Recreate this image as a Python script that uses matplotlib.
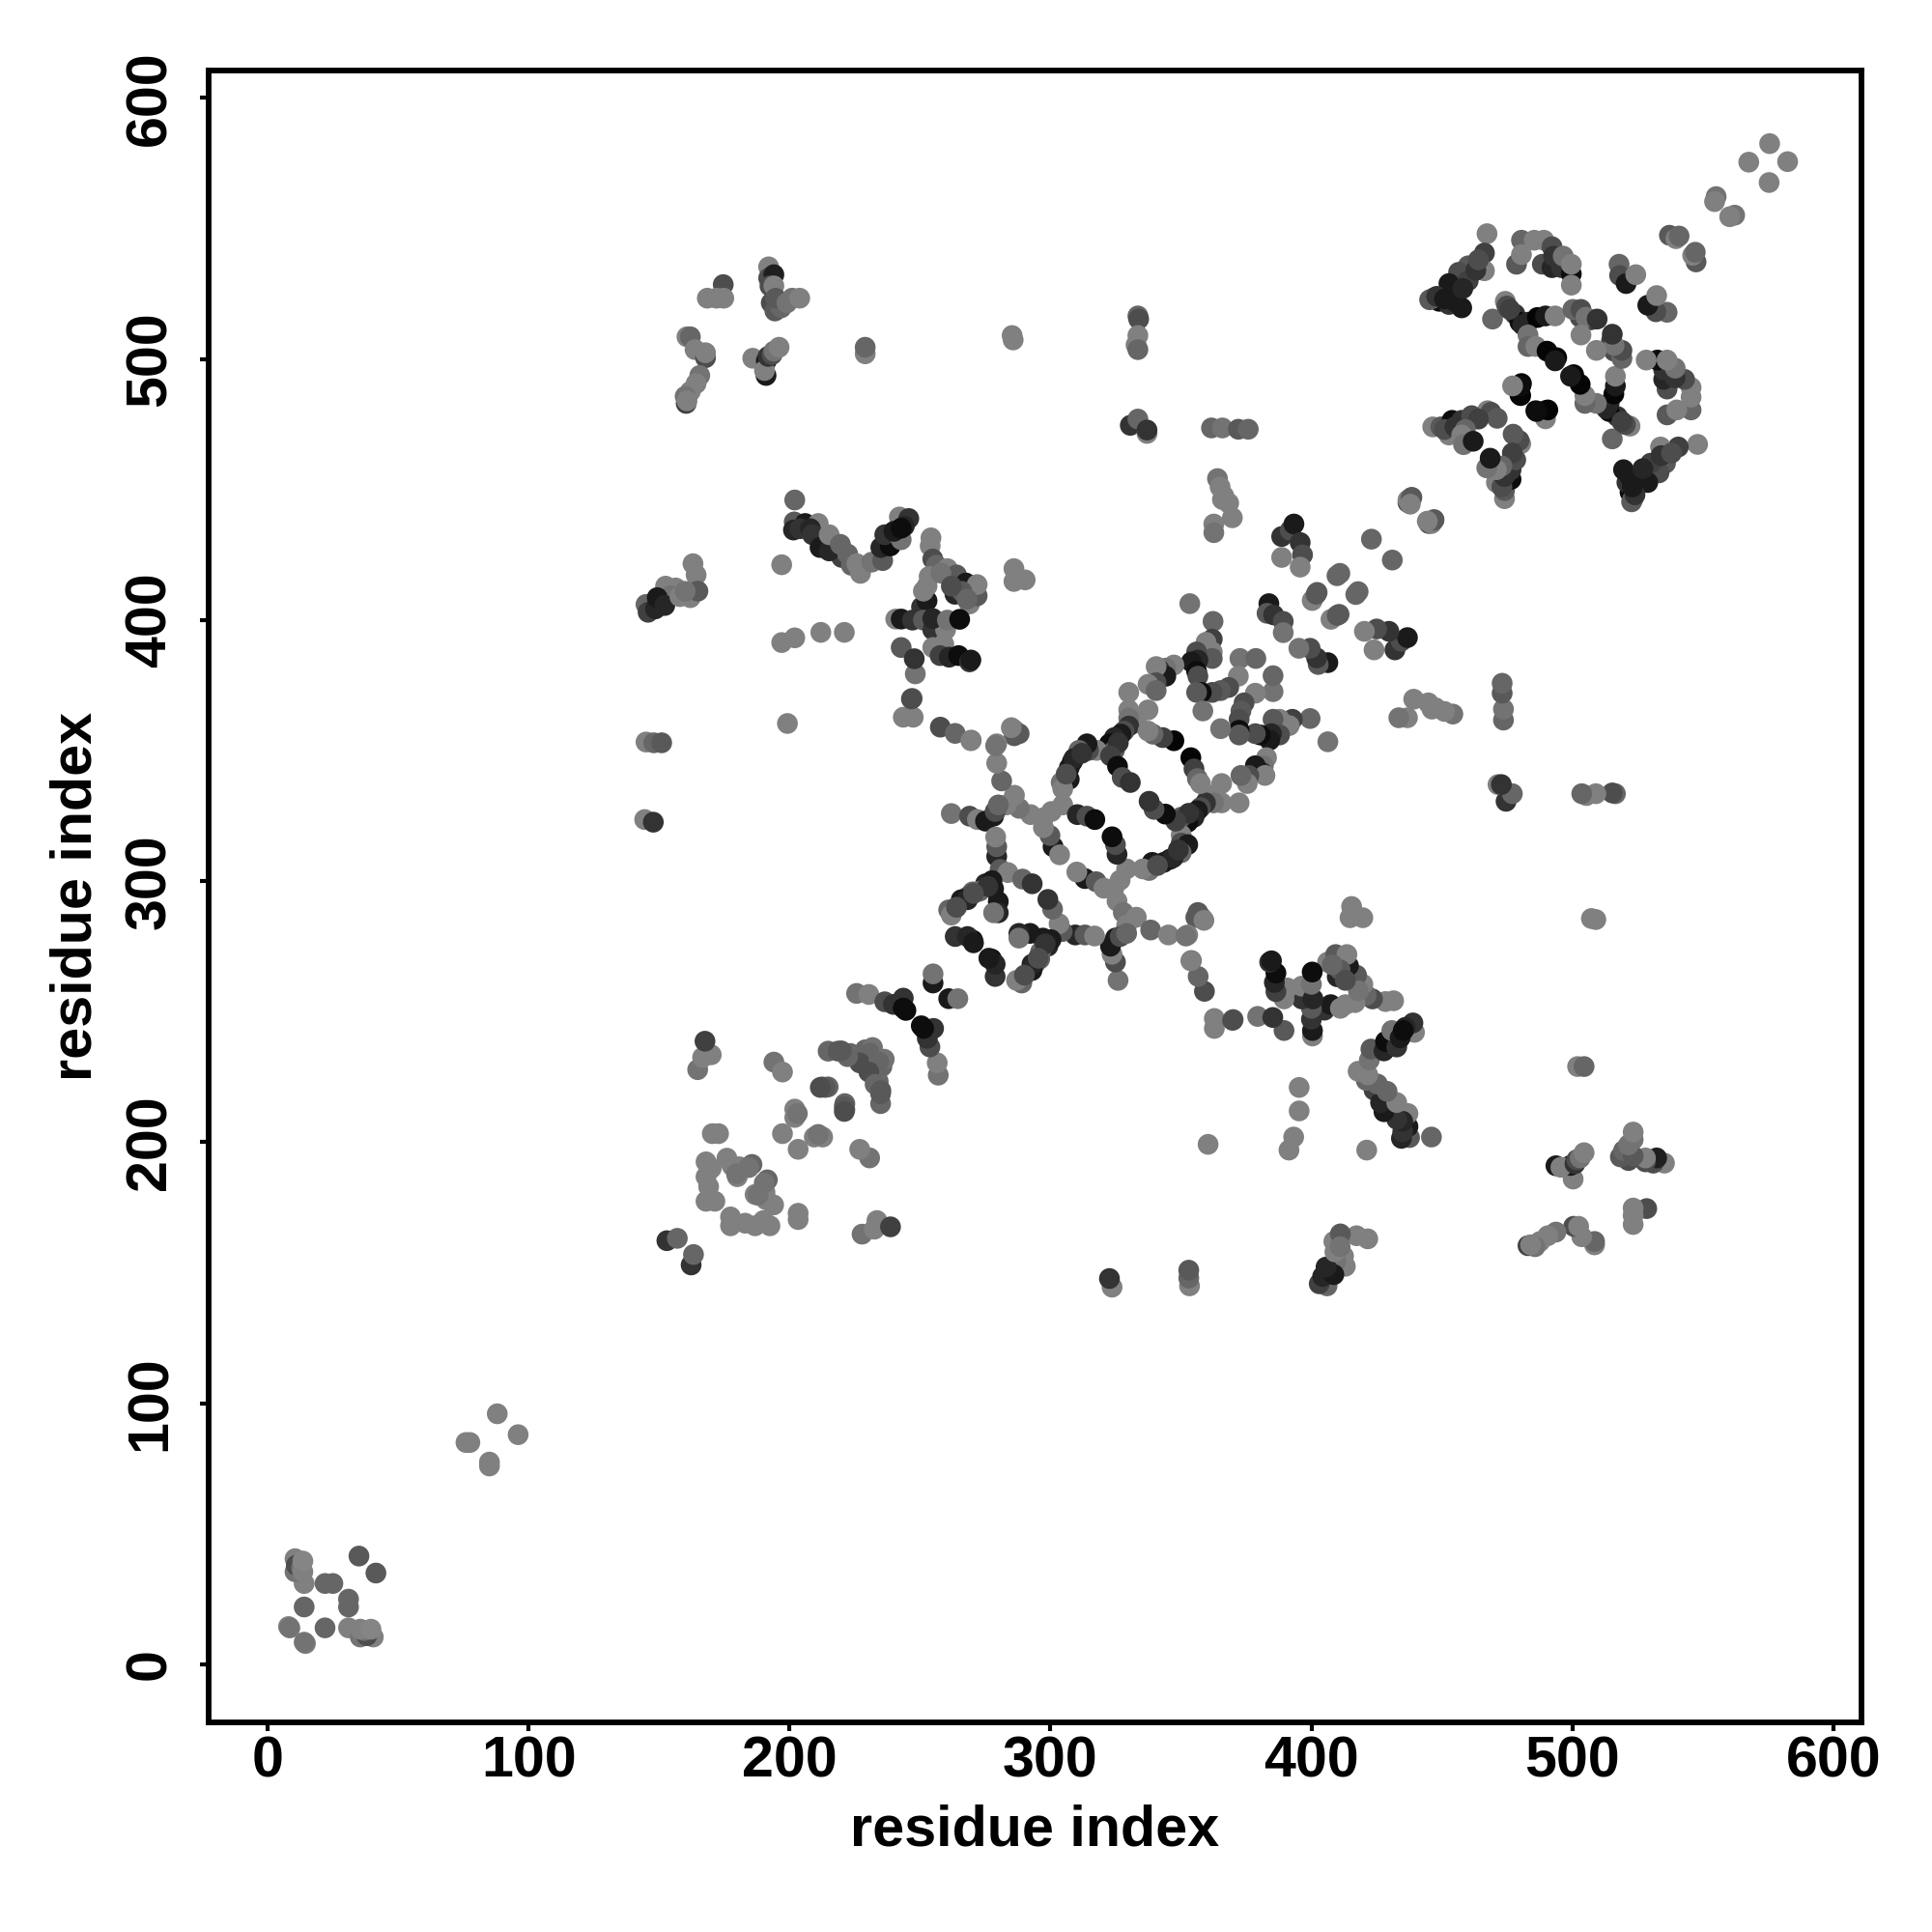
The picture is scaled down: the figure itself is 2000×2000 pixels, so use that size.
#!/usr/bin/env python3
import matplotlib
matplotlib.use('Agg')
import matplotlib.pyplot as plt

plt.rcParams['font.family'] = ['Liberation Sans', 'DejaVu Sans']
plt.rcParams['font.weight'] = 'bold'

# contacts read off the upper triangle: (residue i, residue j, grey level)
# the map is symmetric so each one gets drawn at (i,j) and (j,i)
n_term = [(8, 14.5, .5), (8.5, 14, .45), (14, 22, .4), (14, 31, .5), (22, 31, .4), (25, 31, .4),
          (35, 41.5, .35), (10.5, 40.5, .5), (10.5, 35.5, .45), (11, 38, .3), (13, 37, .45),
          (13.5, 35.5, .5), (13.5, 39.6, .52), (88, 96, .5), (76, 85, .5), (77.5, 85, .5)]

top_left = [(174.6, 528.5, .3), (168.5, 523.3, .5), (172, 523.3, .5), (174.8, 523.3, .5),
            (192, 535.3, .5), (192, 531, .3), (194, 532.3, .12), (192.5, 528, .3), (194, 528, .5),
            (193, 521.5, .3), (194.4, 518.4, .35), (196.8, 519.6, .4), (194.7, 523.3, .35),
            (199, 521.5, .45), (201, 523.3, .45), (203.9, 523.3, .5),
            (160.7, 508.5, .5), (162, 508.5, .4), (163.8, 503.6, .5), (167.8, 500.5, .3),
            (167.8, 502.4, .5), (165.6, 493.7, .45), (164.2, 490.6, .5), (162, 487.6, .5),
            (160.4, 483, .25), (160, 485.7, .45), (160.7, 484, .5),
            (185.9, 500.3, .5), (191.1, 499.3, .1), (191, 493.7, .1), (190.4, 495.6, .5),
            (191.8, 501, .2), (193.3, 501.7, .3), (194, 503, .45), (196, 504.5, .5),
            (229, 502, .5), (229, 504.5, .4), (285.3, 509, .5), (285.7, 507.3, .5),
            (333.5, 516.5, .4), (333.8, 515.3, .3), (333.5, 509, .5), (332.8, 505.4, .5),
            (333.5, 503.6, .4), (330.6, 474.6, .2), (333.5, 477, .4), (337, 471.5, .5), (337, 472.8, .2)]

band_430 = [(202, 446, .4), (201.8, 437.6, .35), (201.5, 434.5, .15), (206, 437, .1), (211, 437, .5),
            (204, 435, .2), (208, 435, .15), (213, 431, .2), (217, 428, .3), (220, 424, .25),
            (208.8, 432.7, .2), (211.7, 427.8, .1), (215.2, 426.5, .15), (215.2, 432.7, .5),
            (219.5, 429, .4), (222.3, 425.3, .4), (223.7, 421, .4), (225.8, 421.6, .5), (227.2, 417.9, .5),
            (231.5, 422.2, .45), (235.7, 422.8, .35), (235, 427.8, .15), (238.6, 428.4, .05),
            (236.5, 432.7, .2), (242.1, 439.5, .5), (245.7, 438.9, .2), (242.8, 430.8, .45),
            (240, 434, .1), (244, 436, .15), (242.8, 435.2, .05), (197, 421.2, .5)]

band_410 = [(163, 421.6, .5), (164.2, 417.3, .5), (162, 408.6, .5), (164.9, 411.1, .35), (156.4, 412.3, .5),
            (152.5, 413, .5), (154.3, 409.3, .45), (145, 406, .4), (145.8, 403, .25), (148.6, 404.3, .15),
            (149.3, 408.6, .1), (152.2, 405.6, .15), (158, 409, .5), (160, 411, .45),
            (286, 419.7, .5), (286, 414.8, .5), (290.3, 415.4, .5)]

cluster_250 = [(254.2, 431.5, .5), (253.9, 428.4, .5), (254.9, 423.4, .3), (256.3, 421, .4), (260.5, 419.7, .5),
               (264, 417.3, .35), (267.6, 414.2, .1), (263.4, 409.9, .15), (269, 406.2, .5), (271.9, 409.3, .35),
               (271.9, 413.6, .5), (250.6, 405, .2), (252.7, 407.4, .1), (251.3, 411.1, .5), (252.7, 413, .5),
               (253.5, 416.7, .5), (240.7, 400.4, .5), (242.8, 400.4, .1), (247.1, 400, .2), (251.3, 400, .35),
               (254.9, 396.3, .2), (259.8, 396.3, .5), (254.9, 400.6, .15), (260.5, 400, .45), (265.2, 400.3, .05),
               (266, 411, .35), (268, 408, .4), (258, 418, .45), (262, 413, .3),
               (242.8, 389.5, .35), (248.2, 379.4, .45), (247.8, 385.2, .2), (254.9, 389.5, .5), (259.1, 390.8, .5),
               (257.7, 386.4, .25), (261.2, 385.8, .15), (264.8, 386.4, .05), (269, 384, .2),
               (197, 391.4, .5), (202, 393.2, .5), (212, 395.3, .5), (221, 395.3, .5), (199.2, 360.4, .5),
               (145, 353.3, .5), (148, 353, .4), (151, 353, .35), (144.5, 323.6, .5), (147.8, 322.6, .2),
               (247, 370, .35), (243.6, 362.8, .5), (247.4, 362.8, .5), (246.7, 369.8, .3),
               (257.8, 359, .3), (263.5, 356.6, .4), (269.6, 354, .4), (269.5, 353.8, .5),
               (286, 358, .5), (286.1, 355.7, .35), (262, 325.9, .45), (269.5, 384.7, .1)]

ring_upper = [(353.4, 406.3, .45), (362.3, 399.5, .4), (362, 392.7, .25), (359.6, 391.5, .5), (362, 387.8, .5),
              (362, 385.3, .35), (356, 387.8, .3), (356.5, 384.7, .15), (354, 384, .1), (356, 380.4, .05),
              (356.5, 378.5, .3), (347.3, 382.8, .5), (344.2, 381.6, .45), (341.7, 381, .2), (344.2, 378.5, .1),
              (340.5, 382.2, .5), (340.5, 376, .3), (337.4, 375.4, .5), (340.5, 373, .4), (330, 372.3, .5),
              (330, 365.6, .5), (337.4, 365.6, .5), (333, 360.6, .5), (330, 362.5, .45), (330, 359.4, .2),
              (328.2, 357.5, .3), (327, 356.3, .1), (324.5, 355, .15), (322.6, 352.6, .05), (324.5, 350.1, .35),
              (317.7, 350.1, .5), (314.6, 350.1, .3), (314, 352.6, .1), (310.9, 350.1, .4), (308.4, 345.8, .05),
              (307.2, 343.4, .1), (307.2, 339, .1), (304.1, 337.8, .45), (304.7, 335.4, .5), (304.7, 329.2, .5),
              (309, 347, .15), (312, 349, .2), (306, 341, .3), (326, 353, .2), (323, 348, .25),
              (325.7, 344, .05), (327.5, 339.7, .3), (330.6, 337.8, .2), (347.3, 353.8, .02), (343, 355, .25),
              (339.3, 356.3, .4), (337.4, 357.5, .5), (372.6, 385.3, .45), (378.7, 385.3, .4),
              (372, 378.5, .5), (368.3, 374.2, .3), (365.2, 373, .35), (362, 372.3, .3), (357.8, 372.3, .05),
              (356, 372.3, .35), (358.4, 365.2, .45)]

ring_lower = [(310.3, 325.5, .15), (314, 324.9, .3), (317, 323.6, .05), (300.4, 326.7, .5), (297.3, 324.3, .5),
              (292.4, 325.5, .5), (288, 327.9, .45), (286.2, 332.9, .5), (283.1, 329.2, .5), (281.3, 338.4, .4),
              (279.4, 345.2, .5), (279.4, 352.6, .5), (279, 351.9, .45), (288, 356.5, .35), (285, 358.8, .5),
              (269, 324.9, .3), (272, 323.6, .5), (275.1, 323, .1), (278.2, 324.9, .1), (278.8, 326.7, .3),
              (280, 329.2, .4), (279.4, 309.5, .15), (279.4, 313.2, .35), (279, 316.9, .5), (280.7, 304.5, .35),
              (283.7, 303.3, .5), (275.1, 299, .15), (277.6, 300.2, .1), (278.2, 297.1, .1), (270.2, 295.9, .4),
              (268.3, 294, .3), (280, 292.2, .1), (280, 287.9, .15), (278.2, 287.9, .45), (289.3, 300.8, .4),
              (293, 299, .2), (270.2, 277.4, .05), (301, 313.2, .1), (303.5, 310.1, .5), (299.8, 317.5, .35),
              (297.3, 320.5, .5), (261, 289, .4), (265.8, 292.9, .1), (268.2, 292.9, .15), (272.9, 296.2, .4),
              (262, 287, .5), (264, 290, .3), (276, 298, .2), (270.5, 295.3, .3), (263.5, 278.8, .2),
              (268.2, 278.8, .15), (270.5, 276.4, .1)]

near_diag = [(255, 261, .1), (255, 264.5, .45), (225.7, 257, .45), (230.4, 256.6, .5), (236.5, 253.8, .3),
             (239.8, 252.8, .2), (243.6, 255.2, .2), (243.6, 251.4, .05), (244.6, 250.5, .05),
             (214.8, 234.9, .4), (218.6, 234.9, .35), (223.3, 234, .4), (225.7, 232.5, .45), (229, 235.4, .4),
             (231.8, 236.3, .45), (230.7, 234.2, .4), (194, 230.7, .45), (197.3, 226.9, .5), (212.5, 221.2, .4),
             (214.8, 221.2, .4), (213.7, 221, .35), (211.8, 221, .3), (226.9, 230.4, .3), (222.2, 232.8, .4),
             (219.8, 235, .35), (202, 212.7, .5), (202, 209.5, .5), (197.3, 203.3, .5), (203, 211, .45),
             (170.4, 203.3, .5), (172.8, 203.3, .5), (168, 192.5, .5), (168, 186.8, .5), (168, 177.4, .5),
             (171.4, 177.4, .5), (176, 193.9, .5), (180.8, 190.6, .5), (180, 186.8, .5), (185.6, 191.5, .4),
             (170, 190, .5), (169, 183, .5), (178, 191, .5),
             (184.4, 190.3, .45), (179.7, 187.9, .45), (153, 162.3, .2), (157, 163.2, .4),
             (164.8, 227.8, .45), (166.7, 232.5, .5), (170, 233.5, .5), (167.6, 238.7, .25)]

right_side = [(383.7, 406.3, .1), (383, 402.6, .35), (385.5, 402, .2), (389.2, 399.5, .3), (389.2, 395.2, .45),
              (388.6, 432, .2), (391.9, 434.4, .3), (393.3, 436.8, .1), (388.6, 424, .5), (395.7, 429.7, .2),
              (396.6, 425, .3), (395.7, 420.3, .5), (402.2, 410.6, .35), (400.3, 407.5, .5), (401.8, 409.9, .35),
              (409.8, 417, .4), (417.9, 410.9, .4), (423, 431, .4), (437, 445, .3), (438.5, 447, .35), (437, 446, .5),
              (364, 454.2, .45), (365, 451, .5), (365.9, 446.2, .5), (366.4, 447.6, .5), (368.3, 444.8, .5),
              (369.7, 439.2, .5), (362.6, 436.8, .5), (362.6, 433.5, .45), (361.7, 473.6, .4), (365.9, 473.6, .45),
              (372, 473.1, .35), (375.8, 473.1, .4)]

top_right = [(575.6, 582.5, .5), (567.6, 575.4, .5), (555.1, 562.2, .45), (554.5, 560.3, .5), (537.2, 547.4, .35),
             (539.7, 546.1, .5), (540.9, 547.1, .4), (517.9, 536.3, .4), (518.1, 532, .3), (520.6, 528.9, .1),
             (524.3, 532.3, .5), (467.3, 548, .5), (466.3, 540.6, .25), (466.3, 533.8, .5), (460.1, 535.7, .35),
             (456.4, 533.2, .3), (460.1, 530, .25), (452.7, 528.9, .1), (454, 525.8, .1), (449, 522.1, .05),
             (452.7, 520.9, .2), (457.6, 519.6, .1), (446.5, 523.3, .5), (445.3, 522.7, .35),
             (448, 524, .2), (451, 523, .1), (455, 522, .1), (458, 527, .15), (463, 534, .2), (464, 538, .3),
             (480.5, 545.5, .4), (485.4, 545.5, .5), (489.1, 545.5, .5), (492.2, 543, .3), (478.6, 536.3, .35),
             (480.5, 540, .5), (488.5, 536.3, .3), (492.2, 535, .15), (492.8, 539.4, .2), (495.9, 535, .2),
             (496.5, 539.4, .45), (499.6, 532.6, .05), (499.6, 536.3, .5), (499.6, 528.3, .5)]

strand_500 = [(469.4, 515.3, .4), (474.3, 522.1, .5), (474.9, 520.3, .3), (478, 517.2, .2), (479.9, 514.1, .05),
              (476, 519, .25), (481, 513, .15), (503, 516, .3), (507, 515, .25),
              (483, 514.1, .15), (486.6, 515.9, .02), (489.7, 516.5, .1), (493.4, 516.5, .5), (483, 509.2, .45),
              (483, 504.8, .4), (486, 504.8, .5), (490.3, 503, .02), (494, 500.5, .02), (493.4, 499.3, .1),
              (500.2, 519, .4), (503.3, 519, .3), (505.2, 516, .45), (509.5, 515.3, .2), (503.3, 509.2, .5),
              (478, 489.4, .5), (480.5, 490.6, .02), (479.9, 486.3, .05), (486, 480.2, .02), (489.7, 480.2, .05),
              (489.7, 477.1, .5), (467.5, 480.2, .5), (468.8, 479.6, .3), (471.2, 477.3, .35), (446.5, 474, .5),
              (449.6, 474, .35), (453.9, 476.5, .05), (457.6, 476.5, .2), (461.4, 478.3, .3), (452.7, 470.9, .5),
              (451, 473, .3), (455, 474, .2), (464, 477, .25), (459, 473, .4),
              (457.6, 470.9, .5), (458.3, 467.2, .45), (462, 468.5, .1), (438.3, 446.9, .35), (437.9, 444.4, .5)]

contacts = (n_term + top_left + band_430 + band_410 + cluster_250 + ring_upper + ring_lower
            + near_diag + right_side + top_right + strand_500)

tick_values = [0, 100, 200, 300, 400, 500, 600]

res_i = [c[0] for c in contacts]
res_j = [c[1] for c in contacts]
shade = [str(c[2]) for c in contacts]

fig = plt.figure(figsize=(10, 10), dpi=200)
ax = fig.add_axes([216 / 2000, 1 - 1783 / 2000, (1927 - 216) / 2000, (1783 - 73) / 2000])

ax.scatter(res_i + res_j, res_j + res_i, s=60, c=shade + shade, linewidths=0, zorder=3)

ax.set_xlim(-22.6, 610.8)
ax.set_ylim(-22.2, 610.5)
ax.set_xticks(tick_values)
ax.set_yticks(tick_values)
ax.tick_params(axis='both', length=3.2, width=1.5, labelsize=21.3)
ax.tick_params(axis='x', pad=1.7)
ax.tick_params(axis='y', pad=8.5)
for label in ax.get_yticklabels():
    label.set_rotation(90)
    label.set_va('center')
for side in ax.spines.values():
    side.set_linewidth(2.1)

ax.set_xlabel('residue index', fontsize=21.4, fontweight='bold', va='center')
ax.set_ylabel('residue index', fontsize=21.4, fontweight='bold', va='center')
ax.xaxis.set_label_coords(0.5, -(1895 - 1783) / (1783 - 73))
ax.yaxis.set_label_coords(-(216 - 79) / (1927 - 216), 0.5)

fig.savefig('out.png', dpi=200)
